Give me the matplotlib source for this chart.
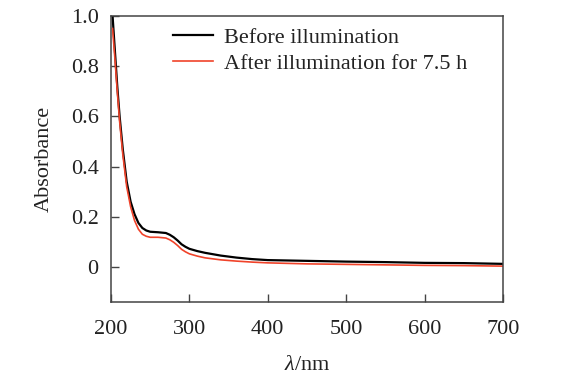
import matplotlib
matplotlib.use("Agg")
import matplotlib.pyplot as plt

wavelength = [202, 205, 208, 211, 215, 220, 225, 230, 235, 240, 245, 250, 260, 270,
              275, 280, 285, 290, 295, 300, 310, 320, 340, 360, 380, 400, 450, 500,
              550, 600, 650, 700]
before = [1.0, 0.86, 0.72, 0.60, 0.47, 0.34, 0.26, 0.21, 0.175, 0.155, 0.145, 0.14,
          0.138, 0.135, 0.128, 0.118, 0.105, 0.09, 0.08, 0.072, 0.063, 0.056, 0.045,
          0.037, 0.031, 0.027, 0.024, 0.021, 0.019, 0.016, 0.015, 0.012]
after = [0.95, 0.83, 0.70, 0.58, 0.45, 0.32, 0.24, 0.185, 0.15, 0.13, 0.122, 0.118,
         0.118, 0.115, 0.108, 0.098, 0.085, 0.07, 0.06, 0.052, 0.043, 0.036, 0.028,
         0.023, 0.019, 0.016, 0.012, 0.010, 0.008, 0.006, 0.005, 0.003]
series_labels = ["Before illumination", "After illumination for 7.5 h"]
xticks = [200, 300, 400, 500, 600, 700]
yticks = [0, 0.2, 0.4, 0.6, 0.8, 1.0]
ytick_labels = ["0", "0.2", "0.4", "0.6", "0.8", "1.0"]

plt.rcParams['font.family'] = ['Liberation Serif', 'DejaVu Serif']
plt.rcParams['mathtext.fontset'] = 'custom'
plt.rcParams['mathtext.it'] = 'Liberation Serif:italic'
plt.rcParams['mathtext.rm'] = 'Liberation Serif'
FS = 16
TXT = '#222222'
fig = plt.figure(figsize=(5.84, 3.85), dpi=100)
ax = fig.add_axes([111/584, 1 - 302/385, (503-111)/584, (302-16)/385])

ax.plot(wavelength, before, color='black', lw=1.6, label=series_labels[0])
ax.plot(wavelength, after, color='#f0432a', lw=1.2, label=series_labels[1])

ax.set_xlim(200, 700)
ax.set_ylim(-0.14, 1.0)
ax.set_xticks(xticks)
ax.set_yticks(yticks)
ax.set_yticklabels(ytick_labels)
ax.tick_params(direction='in', length=6, width=1, color='#444444', labelsize=FS,
               labelcolor=TXT)
ax.tick_params(axis='x', pad=13)
ax.tick_params(axis='y', pad=9)
for s in ax.spines.values():
    s.set_color('#444444')
    s.set_linewidth(1.1)

ax.set_ylabel('Absorbance', fontsize=FS, color=TXT, va='center')
ax.yaxis.set_label_coords((44-111)/392, 0.5)
ax.set_xlabel(r'$\lambda$/nm', fontsize=FS, color=TXT, va='center')
ax.xaxis.set_label_coords(0.5, (302-365)/286)

leg = ax.legend(loc='upper left', bbox_to_anchor=((173-111)/392, (302-27)/286),
                frameon=False, fontsize=FS, handlelength=1.8, handletextpad=0.5,
                labelspacing=0.27, borderaxespad=0, borderpad=0)
for t in leg.get_texts():
    t.set_color(TXT)

fig.savefig('out.png', dpi=100)
